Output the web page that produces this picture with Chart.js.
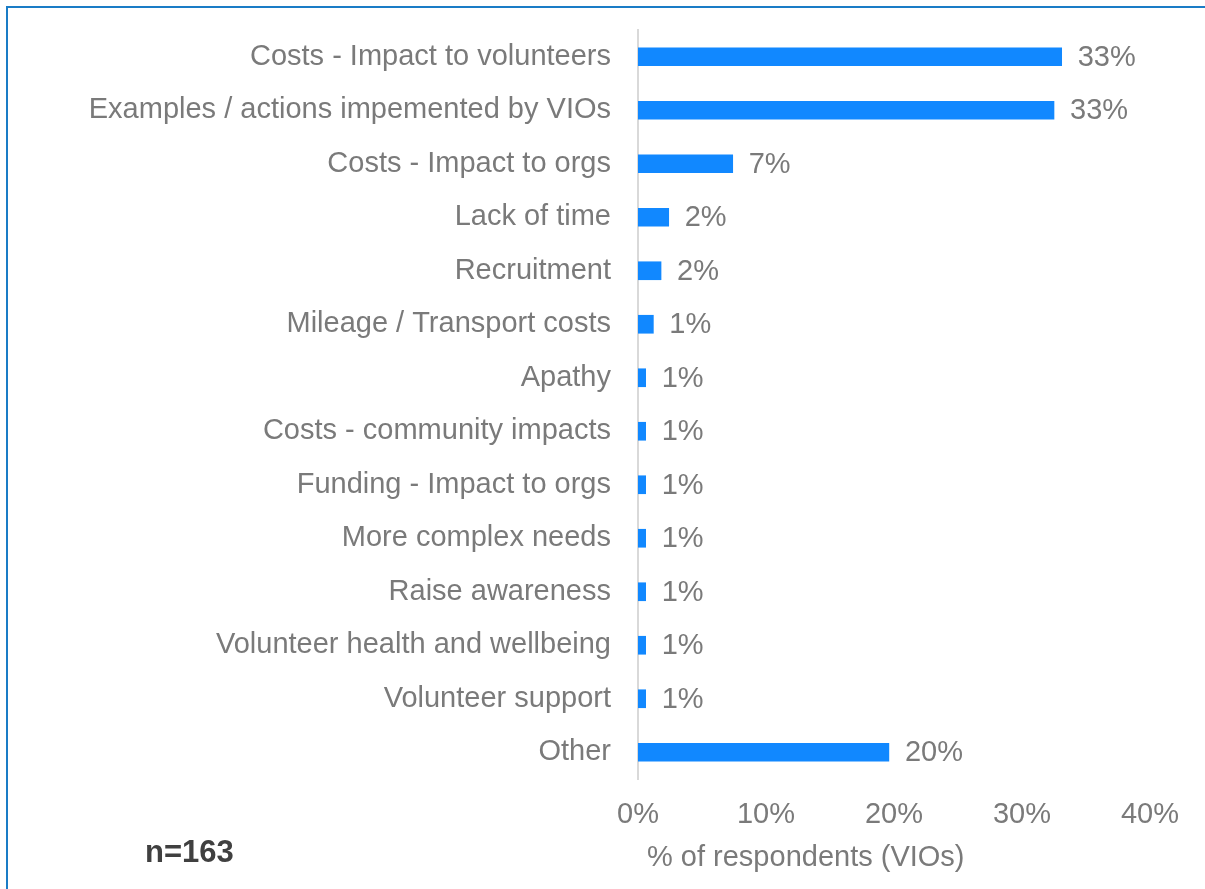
<!DOCTYPE html>
<html>
<head>
<meta charset="utf-8">
<script src="https://cdn.jsdelivr.net/npm/chart.js@4/dist/chart.umd.min.js"></script>
<style>
  html, body { margin: 0; padding: 0; background: #ffffff; overflow: hidden; }
  #frame {
    position: absolute; left: 6px; top: 6px; width: 1400px; height: 1000px;
    border-left: 2px solid #1a7cc6; border-top: 2px solid #1a7cc6;
  }
  #wrap { position: absolute; left: 0; top: 0; width: 1205px; height: 889px; }
</style>
</head>
<body>
<div id="frame"></div>
<div id="wrap"><canvas id="c" width="1205" height="889"></canvas></div>
<script>
// Reasons given by volunteer-involving organisations, share of respondents (%)
const categories = [
  'Costs - Impact to volunteers',
  'Examples / actions impemented by VIOs',
  'Costs - Impact to orgs',
  'Lack of time',
  'Recruitment',
  'Mileage / Transport costs',
  'Apathy',
  'Costs - community impacts',
  'Funding - Impact to orgs',
  'More complex needs',
  'Raise awareness',
  'Volunteer health and wellbeing',
  'Volunteer support',
  'Other'
];
const shares = [33.1, 32.5, 7.4, 2.4, 1.8, 1.2, 0.6, 0.6, 0.6, 0.6, 0.6, 0.6, 0.6, 19.6];
const xTickValues = [0, 10, 20, 30, 40];
const axisTitle = '% of respondents (VIOs)';
const sampleNote = 'n=163';

const FONT = "'Liberation Sans', Arial, sans-serif";
const GREY = '#7a7a7a';
const BAR = '#1188ff';

// Percentage label to the right of each bar
const valueLabels = {
  id: 'valueLabels',
  afterDatasetsDraw(chart) {
    const ctx = chart.ctx;
    const meta = chart.getDatasetMeta(0);
    ctx.save();
    ctx.font = '29px ' + FONT;
    ctx.fillStyle = GREY;
    ctx.textAlign = 'left';
    ctx.textBaseline = 'middle';
    meta.data.forEach((bar, i) => {
      ctx.fillText(Math.round(shares[i]) + '%', bar.x + 16, bar.y + 1);
    });
    ctx.restore();
  }
};

// Axis caption and sample size note
const captions = {
  id: 'captions',
  afterDraw(chart) {
    const ctx = chart.ctx;
    const area = chart.chartArea;
    ctx.save();
    ctx.textBaseline = 'middle';
    ctx.textAlign = 'left';
    ctx.font = '29px ' + FONT;
    ctx.fillStyle = GREY;
    ctx.fillText(axisTitle, area.left + 9, area.bottom + 79);
    ctx.font = 'bold 31px ' + FONT;
    ctx.fillStyle = '#404040';
    ctx.fillText(sampleNote, 145, area.bottom + 74);
    ctx.restore();
  }
};

new Chart(document.getElementById('c'), {
  type: 'bar',
  data: {
    labels: categories,
    datasets: [{
      data: shares,
      backgroundColor: BAR,
      borderWidth: 0,
      barThickness: 18
    }]
  },
  options: {
    indexAxis: 'y',
    responsive: false,
    animation: false,
    layout: { padding: { top: 30, right: 55, left: 0, bottom: 0 } },
    plugins: {
      legend: { display: false },
      tooltip: { enabled: false }
    },
    scales: {
      x: {
        min: 0,
        max: 40,
        afterBuildTicks(scale) {
          scale.ticks = xTickValues.map(v => ({ value: v }));
        },
        afterFit(scale) { scale.height = 110; },
        grid: { display: false, drawTicks: false },
        border: { display: false },
        ticks: {
          padding: 19,
          color: GREY,
          font: { family: FONT, size: 29 },
          callback: v => v + '%'
        }
      },
      y: {
        afterFit(scale) {
          scale.width = 638;
          scale.paddingTop = 0;
          scale.paddingBottom = 0;
        },
        grid: { display: false, drawTicks: false },
        border: { display: true, color: '#d9d9d9', width: 2 },
        ticks: {
          padding: 27,
          color: GREY,
          font: { family: FONT, size: 29 }
        }
      }
    }
  },
  plugins: [valueLabels, captions]
});
</script>
</body>
</html>
